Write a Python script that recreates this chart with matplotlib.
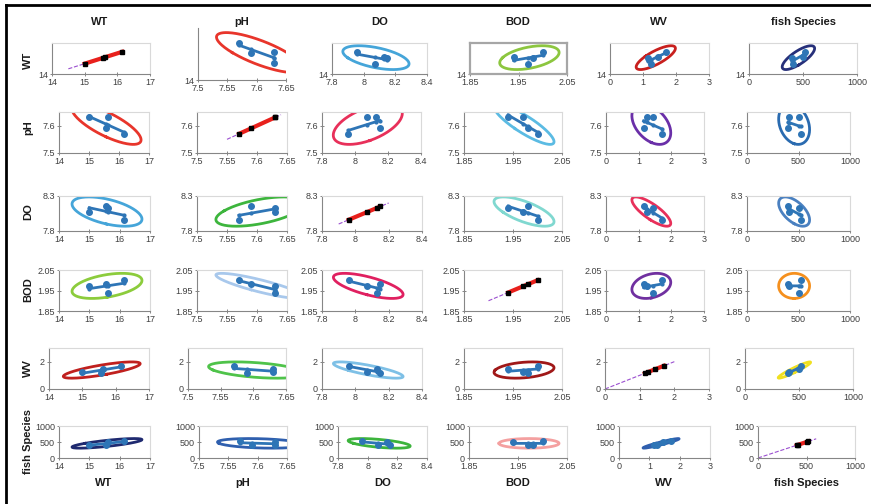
import numpy as np
import matplotlib.pyplot as plt
from matplotlib.lines import Line2D
from matplotlib.ticker import FormatStrFormatter, FuncFormatter

plt.rcParams['font.family'] = ['Liberation Sans', 'DejaVu Sans']

# variables (4 samples)
names = ["WT", "pH", "DO", "BOD", "WV", "fish Species"]
WT = [15.0, 15.55, 15.63, 16.15]
pH = [7.63, 7.59, 7.63, 7.57]
DO = [8.07, 8.15, 8.13, 7.96]
BOD = [1.97, 1.98, 1.94, 2.00]
WV = [1.25, 1.15, 1.45, 1.70]
fish = [410, 400, 500, 520]
series = [WT, pH, DO, BOD, WV, fish]

xlims = [(14, 17), (7.5, 7.65), (7.8, 8.4), (1.85, 2.05), (0, 3), (0, 1000)]
xticks = [[14, 15, 16, 17], [7.5, 7.55, 7.6, 7.65], [7.8, 8, 8.2, 8.4],
          [1.85, 1.95, 2.05], [0, 1, 2, 3], [0, 500, 1000]]
ylims = [(14, 17), (7.5, 7.65), (7.8, 8.3), (1.85, 2.05), (0, 3), (0, 1000)]
yticks = [[14], [7.5, 7.6], [7.8, 8.3], [1.85, 1.95, 2.05], [0, 2], [0, 500, 1000]]
# 1:1 reference line extent on the diagonal
ref_range = [(14.5, 16.2), (7.55, 7.64), (7.9, 8.2), (1.9, 2.0), (0, 2), (0, 600)]

ell_colors = [
    [None, "#e8352b", "#45a5d9", "#8cc63f", "#c8201e", "#27307a"],
    ["#e8352b", None, "#e8305a", "#5bbbe3", "#6a2fa8", "#2a6bb0"],
    ["#45a5d9", "#3db53d", None, "#80d8d0", "#e8305a", "#4a80c0"],
    ["#8ccc3c", "#a8c8ec", "#e02060", None, "#7030a0", "#f5901e"],
    ["#c0201e", "#4fc34a", "#7ec0e6", "#a01818", None, "#f0e020"],
    ["#1f2a70", "#2f5fae", "#3cb43c", "#f4a0a0", "#2f5fae", None],
]

# plot area positions in pixels (left, right) per row, (top, bottom) per row
lefts = [[52, 198, 332, 470, 610, 749],
         [59, 197, 322, 464, 606, 747],
         [59, 197, 322, 464, 606, 747],
         [59, 197, 322, 464, 606, 747],
         [49, 188, 322, 464, 605, 745],
         [59, 199, 338, 469, 619, 758]]
rights = [[150, 286, 427, 567, 709, 857],
          [149, 287, 421, 562, 704, 850],
          [150, 287, 422, 562, 704, 850],
          [150, 287, 422, 562, 704, 850],
          [149, 286, 422, 562, 709, 853],
          [150, 287, 427, 567, 710, 855]]
tops = [43, 112, 196, 270, 348, 426]
bottoms = [74, 153, 231, 311, 389, 458]

W, H = 871, 504
fig = plt.figure(figsize=(W / 100, H / 100), dpi=100)
fig.patch.set_facecolor("white")

blue = "#2e75b6"
fmt = FuncFormatter(lambda v, p: "%g" % v)

for r in range(6):
    for c in range(6):
        L, R = lefts[r][c], rights[r][c]
        T, B = tops[r], bottoms[r]
        if r == 0 and c == 1:
            T, B = 28, 80
        ax = fig.add_axes([L / W, 1 - B / H, (R - L) / W, (B - T) / H])
        x = np.array(series[c], float)
        y = np.array(series[r], float)
        if r == c:
            o = np.argsort(x)
            a, b = ref_range[c]
            ax.plot([a, b], [a, b], ls="--", color="#9b4fd0", lw=0.8, zorder=2)
            ax.plot(x[o], y[o], color="#e8201c", lw=3, zorder=3)
            ax.plot(x[o], y[o], ls="none", marker="s", ms=2.5, color="black", zorder=4)
        else:
            # confidence ellipse (95%)
            cov = np.cov(x, y)
            mx, my = x.mean(), y.mean()
            vals, vecs = np.linalg.eigh(cov)
            vals = np.clip(vals, 0, None)
            t = np.linspace(0, 2 * np.pi, 200)
            circ = np.vstack([np.cos(t), np.sin(t)])
            pts = vecs @ (np.sqrt(vals)[:, None] * 2.45 * circ)
            ax.plot(mx + pts[0], my + pts[1], color=ell_colors[r][c], lw=2, zorder=2)
            # linear fit
            b1, b0 = np.polyfit(x, y, 1)
            xs = np.sort(x)
            ax.plot(xs, b0 + b1 * xs, color=blue, lw=2, marker="o", ms=2, zorder=3)
            ax.plot(x, y, ls="none", marker="o", ms=4, color=blue, zorder=4)
        ax.set_xlim(xlims[c])
        ax.set_ylim(ylims[r])
        ax.set_xticks(xticks[c])
        ax.set_yticks(yticks[r])
        ax.xaxis.set_major_formatter(fmt)
        ax.yaxis.set_major_formatter(fmt)
        ax.tick_params(direction="inout", length=3, width=0.7, color="#868686",
                       labelsize=6.5, labelcolor="#404040", pad=1.5)
        for s in ["top", "right"]:
            ax.spines[s].set_color("#d9d9d9")
            ax.spines[s].set_linewidth(0.8)
        for s in ["left", "bottom"]:
            ax.spines[s].set_color("#868686")
            ax.spines[s].set_linewidth(0.8)
        if r == 0 and c == 1:
            ax.spines["top"].set_visible(False)
            ax.spines["right"].set_visible(False)
        if r == 0 and c == 3:
            for s in ax.spines.values():
                s.set_color("#a6a6a6")
                s.set_linewidth(1.6)

# column titles (top), axis names (bottom), row names (left)
top_x = [100, 242, 380, 518, 659, 803]
bot_x = [104, 243, 383, 518, 664, 806]
row_y = [60, 128, 212, 290, 368, 442]
for i, n in enumerate(names):
    fig.text(top_x[i] / W, 1 - 22 / H, n, ha="center", va="center",
             fontsize=8, fontweight="bold", color="#1a1a1a")
    fig.text(bot_x[i] / W, 1 - 483 / H, n, ha="center", va="center",
             fontsize=8, fontweight="bold", color="#1a1a1a")
    fig.text(28 / W, 1 - row_y[i] / H, n, ha="center", va="center",
             rotation=90, fontsize=8, fontweight="bold", color="#1a1a1a")

# outer frame lines (top and left)
fig.add_artist(Line2D([6 / W, 1], [1 - 5 / H, 1 - 5 / H], color="black", lw=2))
fig.add_artist(Line2D([6 / W, 6 / W], [0, 1 - 5 / H], color="black", lw=2))

fig.savefig("out.png", dpi=100, facecolor="white")
